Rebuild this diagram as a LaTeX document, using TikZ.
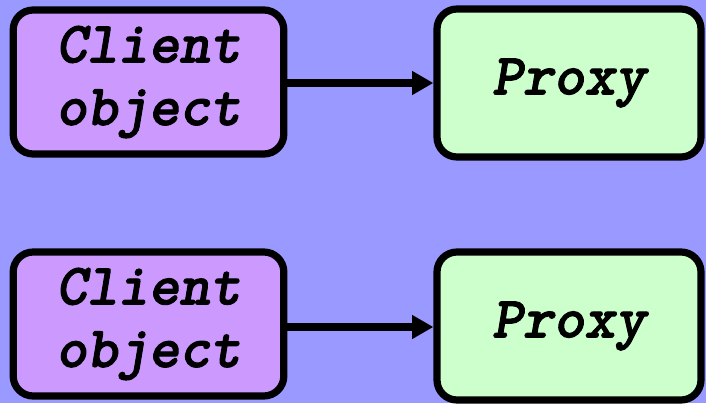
\documentclass[tikz,border=0pt]{standalone}
\usepackage{fontspec}
\newfontfamily\boxfont{lmmonolt10-boldoblique}[Extension=.otf,FakeBold=1.6]
\usetikzlibrary{arrows.meta}

\definecolor{bgblue}{RGB}{153,153,255}
\definecolor{clientfill}{RGB}{204,153,255}
\definecolor{proxyfill}{RGB}{204,255,204}

\tikzset{every picture/.style={line width=0.75pt}}
\tikzset{
  boxtext/.style={font=\fontsize{44}{47}\selectfont\boxfont, align=center},
  clientbox/.style={boxtext, draw=black, line width=5.4pt, rounded corners=15pt, fill=clientfill, minimum width=203pt, minimum height=108pt, inner sep=0pt},
  proxybox/.style={boxtext, draw=black, line width=5.4pt, rounded corners=15pt, fill=proxyfill, minimum width=198pt, minimum height=111pt, inner sep=0pt},
  calls/.style={line width=6pt, -{Triangle[length=16pt,width=17pt]}}
}

\begin{document}
\begin{tikzpicture}[x=0.75pt,y=0.75pt,yscale=-1,xscale=1]
%background, sets the picture size
\fill [bgblue] (0,0) rectangle (706,403) ;
\useasboundingbox (0,0) rectangle (706,403) ;

% Top pair
\node [clientbox] (client1) at (148.5,82) {Client\\object};
\node [proxybox] (proxy1) at (569,83) {\raisebox{-5.5pt}{Proxy}};
% Bottom pair
\node [clientbox] (client2) at (148.5,324) {Client\\object};
\node [proxybox] (proxy2) at (569,326) {\raisebox{-5.5pt}{Proxy}};

% Arrows
\draw [calls] (client1.east |- 0,83) -- (proxy1.west |- 0,83) ;
\draw [calls] (client2.east |- 0,327) -- (proxy2.west |- 0,327) ;

\end{tikzpicture}
\end{document}
